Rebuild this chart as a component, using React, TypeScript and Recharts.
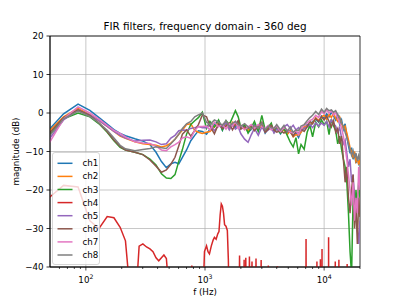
import { LineChart, Line, XAxis, YAxis, CartesianGrid, ReferenceArea } from 'recharts';

// frequency bins (Hz) shared by ch1-3, ch5-8
const freqs = [
  43, 65, 86, 108, 129, 151, 172, 194, 215, 258, 301, 345, 388, 431, 474, 517, 560, 603, 646, 700, 760, 820, 880, 950,
  1030, 1100, 1200, 1300, 1400, 1500, 1600, 1700, 1800, 1900, 2000, 2150, 2300, 2450, 2600, 2800, 3000, 3200, 3400,
  3600, 3800, 4000, 4300, 4600, 4900, 5200, 5500, 5800, 6100, 6400, 6800, 7200, 7600, 8000, 8500, 9000, 9500, 10000,
  10500, 11000, 11500, 12000, 12500, 13000, 13500, 14000, 14500, 15000, 15500, 16000, 16500, 17000, 17500, 18000,
  18500, 19000, 19500, 20000,
];

const ch1 = [
  -6.3, -0.2, 2.3, 0.7, -1.2, -2.9, -4.3, -5.3, -5.9, -6.7, -7.3, -8.2, -10.2, -12.6, -14.2, -13.2, -12.8, -13.2, -11.5, -9.6, -7.2, -5.8, -4.6, -4.8,
  -5.5, -4.2, -3.0, -2.0, -4.5, -2.5, -3.5, -2.8, -3.8, -2.2,
  -4.0, -3.2, -5.0, -4.2, -3.0, -4.6, -2.8, -5.2, -4.0, -3.2,
  -4.8, -3.6, -5.4, -4.2, -5.0, -4.4, -6.0, -5.2, -6.4, -4.8,
  -4.0, -3.0, -3.8, -2.2, -1.6, -2.4, -0.8, -1.4, -0.2, -1.0,
  0.2, -0.8, -1.8, -0.6, -3.0, -1.8, -4.2, -2.8, -6.0, -8.5,
  -10.5, -9.0, -12.0, -10.8, -13.0, -11.5, -13.2, -12.5,
];

const ch2 = [
  -6.5, -1.0, 1.2, -0.4, -2.0, -3.5, -4.8, -6.0, -6.6, -7.5, -8.0, -8.2, -8.4, -8.8, -8.5, -7.8, -6.8, -5.5, -4.5, -3.0, -2.8, -4.5, -5.0, -5.3,
  -5.0, -4.8, -3.6, -2.6, -3.8, -3.0, -4.2, -2.4, -3.2, -2.8,
  -3.6, -4.0, -4.6, -3.4, -3.6, -4.2, -3.2, -4.8, -3.8, -3.4,
  -4.6, -4.0, -5.0, -4.4, -5.6, -4.6, -6.2, -5.6, -5.8, -5.0,
  -3.6, -3.4, -3.0, -2.6, -1.2, -2.0, -1.0, -0.6, -1.6, -0.4,
  -1.2, 0.0, -1.4, -2.2, -1.0, -2.6, -4.0, -3.4, -5.2, -7.0,
  -9.0, -10.2, -11.4, -10.0, -12.6, -11.8, -13.4, -12.0,
];

const ch3 = [
  -7.8, -1.5, 0.0, -1.0, -2.8, -5.0, -7.2, -8.9, -9.6, -10.2, -10.8, -12.0, -13.5, -15.8, -16.9, -17.0, -16.0, -12.5, -9.5, -5.5, -3.0, -2.0, -1.2, 0.2,
  -4.0, -2.2, -3.6, -1.8, -4.4, -2.0, -3.0, -1.2, 0.6, -1.0,
  -3.8, -3.0, -5.2, -3.8, -2.2, -4.8, -0.6, -4.4, -3.6, -2.6,
  -5.0, -4.0, -5.2, -4.0, -5.8, -7.6, -8.8, -6.4, -10.6, -8.2,
  -9.4, -5.0, -3.2, -6.2, -2.4, -3.6, -1.8, -3.0, -2.2, -5.6,
  -1.6, -3.4, -4.6, -8.0, -6.0, -9.4, -12.0, -14.0, -18.0, -26.0,
  -36.0, -42.0, -22.0, -28.0, -20.0, -24.0, -18.0, -22.0,
];

const ch5 = [
  -9.2, -1.8, 0.8, -0.5, -2.0, -3.5, -4.8, -5.8, -6.5, -7.3, -7.1, -7.0, -7.5, -8.2, -8.0, -6.5, -5.8, -4.6, -4.4, -4.5, -4.0, -3.8, -3.5, -3.8,
  -3.8, -3.0, -4.6, -3.2, -3.6, -2.6, -4.4, -3.0, -4.2, -3.6,
  -5.4, -6.8, -7.6, -5.6, -4.0, -5.8, -3.6, -5.0, -4.4, -3.8,
  -5.2, -4.2, -4.8, -3.6, -3.0, -4.0, -3.2, -4.4, -3.8, -4.6,
  -4.0, -3.6, -3.0, -3.8, -2.6, -3.4, -2.6, -3.2, -2.2, -3.6,
  -1.8, -2.8, -3.4, -5.0, -3.8, -6.4, -8.0, -7.0, -10.4, -14.0,
  -12.0, -18.0, -16.0, -22.0, -26.0, -30.0, -34.0, -28.0,
];

const ch6 = [
  -7.2, -1.2, 0.8, -0.6, -2.6, -4.8, -7.0, -8.7, -9.6, -10.2, -10.8, -12.2, -13.8, -15.4, -14.8, -13.3, -11.5, -8.5, -5.5, -4.4, -6.0, -4.5, -3.0, -0.5,
  -1.0, -3.4, -5.4, -2.8, -4.0, -3.4, -2.6, -4.4, -3.0, -2.0,
  -4.2, -3.6, -4.0, -3.2, -4.6, -3.4, -2.4, -5.0, -4.2, -3.2,
  -4.4, -5.0, -4.6, -5.2, -4.6, -5.0, -6.0, -4.8, -5.4, -4.2,
  -4.8, -3.6, -2.2, -2.8, -1.4, -2.2, -1.0, -1.8, -0.8, -2.2,
  -3.6, -2.0, -5.0, -4.0, -8.0, -6.0, -12.0, -18.0, -14.0, -22.0,
  -26.0, -20.0, -16.0, -30.0, -24.0, -34.0, -22.0, -27.0,
];

const ch7 = [
  -10.9, -1.5, 1.6, 0.0, -1.6, -3.2, -4.5, -5.3, -6.2, -7.5, -7.8, -7.9, -8.6, -9.6, -9.8, -8.8, -8.2, -7.6, -6.5, -6.2, -6.6, -4.5, -3.5, -3.5,
  -3.4, -4.4, -2.4, -3.6, -3.0, -4.2, -2.8, -3.4, -2.2, -4.0,
  -3.2, -4.4, -3.6, -3.0, -4.0, -3.0, -3.6, -4.0, -3.2, -4.4,
  -3.8, -3.4, -4.8, -3.8, -4.4, -5.0, -5.2, -4.6, -5.6, -4.0,
  -3.2, -2.6, -2.0, -1.6, -0.6, -1.2, 0.4, -0.2, 0.8, 0.0,
  0.6, -0.6, 0.2, -1.4, -2.6, -3.8, -6.0, -9.0, -12.0, -16.0,
  -20.0, -24.0, -18.0, -28.0, -22.0, -26.0, -14.0, -20.0,
];

const ch8 = [
  -8.3, -1.5, 0.5, -0.9, -2.6, -4.5, -6.5, -8.4, -9.3, -9.8, -9.5, -9.2, -8.8, -9.0, -9.2, -8.0, -6.8, -5.5, -4.0, -2.8, -2.2, -1.0, -0.5, 0.0,
  -2.4, -3.0, -1.8, -2.4, -3.2, -2.0, -3.6, -2.6, -2.2, -3.0,
  -3.4, -2.8, -3.6, -4.2, -3.2, -4.0, -2.6, -4.4, -3.4, -3.8,
  -4.0, -3.0, -4.4, -3.2, -4.8, -3.6, -5.0, -4.4, -4.6, -3.4,
  -3.0, -2.0, -1.2, -0.6, 0.4, -0.4, 1.0, 0.2, 1.2, 0.6,
  0.8, 0.2, 0.6, -0.4, -1.2, -2.6, -3.4, -5.0, -6.4, -8.0,
  -9.6, -11.0, -9.8, -11.6, -10.4, -12.4, -11.0, -12.2,
];

// ch4 is mostly below the -40 dB floor, so it has its own bins
const ch4Freqs = [
  43, 65, 86, 108, 129, 151, 172, 194, 215, 237, 258,
  280, 301, 323, 345, 366, 388, 409, 431, 452, 474, 495, 517, 560,
  646, 753, 775, 797, 904, 969,
  990, 1030, 1060, 1090, 1130, 1170, 1200, 1240, 1280, 1310, 1340, 1370, 1400, 1430, 1460, 1500, 1540, 1570, 1600, 1700,
  1930, 1950, 1970, 2110, 2130, 2150, 2180, 2200, 2220, 2340, 2360, 2380, 2460, 2480, 2500,
  2660, 2680, 2700, 2940, 2960, 2980, 3380, 3400, 3420, 4030, 4050, 4070,
  7030, 7050, 7070, 8680, 8700, 8720, 9280, 9300, 9320, 9580, 9600, 9620,
  10880, 10900, 10920, 12380, 12400, 12420, 13280, 13300, 13320, 15580, 15600, 15620, 20000,
];
const ch4 = [
  -23.5, -18.8, -19.2, -28.0, -30.0, -26.9, -27.2, -29.7, -33.2, -48, -52,
  -34.6, -34.0, -34.8, -35.3, -36.0, -37.6, -38.4, -37.6, -36.9, -37.8, -45, -55, -60,
  -58, -46, -39.6, -46, -58, -45,
  -36.0, -34.5, -36.0, -36.6, -34.5, -33.0, -32.3, -32.8, -31.4, -30.8, -26.5, -23.6, -24.2, -26.0, -29.0, -29.4, -30.5, -38.0, -52, -60,
  -55, -37.0, -55, -55, -38.1, -55, -55, -37.6, -55, -55, -37.3, -55, -55, -38.6, -55,
  -55, -37.8, -55, -55, -38.2, -55, -55, -39.6, -55, -55, -39.8, -55,
  -55, -32.7, -55, -55, -38.6, -55, -55, -38.0, -55, -55, -35.3, -55,
  -55, -32.3, -55, -55, -38.6, -55, -55, -38.1, -55, -55, -39.2, -55, -60,
];

const names = ['ch1', 'ch2', 'ch3', 'ch4', 'ch5', 'ch6', 'ch7', 'ch8'];
const colors = ['#1f77b4', '#ff7f0e', '#2ca02c', '#d62728', '#9467bd', '#8c564b', '#e377c2', '#7f7f7f'];

const majorTicks = [100, 1000, 10000];
const xTicks = [
  60, 70, 80, 90, 100, 200, 300, 400, 500, 600, 700, 800, 900, 1000,
  2000, 3000, 4000, 5000, 6000, 7000, 8000, 9000, 10000, 20000,
];
const yTicks = [-40, -30, -20, -10, 0, 10, 20];

const series = { ch1, ch2, ch3, ch5, ch6, ch7, ch8 };
const data = freqs.map((f, i) => {
  const row: Record<string, number> = { f };
  Object.entries(series).forEach(([k, arr]) => { row[k] = arr[i]; });
  return row;
});
const ch4Data = ch4Freqs.map((f, i) => ({ f, ch4: ch4[i] }));

const FONT = 'DejaVu Sans';
const LW = 1.5;

function FreqTick(props: any) {
  const { x, y, payload } = props;
  const v = payload.value;
  const major = majorTicks.includes(v);
  return (
    <g>
      <line x1={x} x2={x} y1={y} y2={y + (major ? 3.5 : 2)} stroke="#000" strokeWidth={0.7} />
      {major && (
        <text x={x} y={y + 16} textAnchor="middle" fontSize={8.7} fontFamily={FONT} fill="#000">
          10<tspan dy={-3.8} fontSize={6.2}>{Math.round(Math.log10(v))}</tspan>
        </text>
      )}
    </g>
  );
}

const fmtY = (v: number) => (v < 0 ? '\u2212' + Math.abs(v) : String(v));

export default function App() {
  return (
    <div style={{ position: 'absolute', left: 0, top: 0, width: 400, height: 300, background: '#fff' }}>
      <LineChart width={400} height={300} data={data} margin={{ top: 36, right: 40, bottom: 0, left: 0 }}>
        <CartesianGrid stroke="#b0b0b0" strokeWidth={0.7} verticalValues={majorTicks} horizontalValues={yTicks} />
        <XAxis
          dataKey="f"
          type="number"
          scale="log"
          domain={[50, 20000]}
          allowDataOverflow
          ticks={xTicks}
          interval={0}
          tick={<FreqTick />}
          tickLine={false}
          tickSize={0}
          tickMargin={0}
          axisLine={{ stroke: '#000', strokeWidth: 0.8 }}
          height={33}
          label={{
            content: (p: any) => (
              <text x={p.viewBox.x + p.viewBox.width / 2} y={p.viewBox.y + 27.5} textAnchor="middle" fontSize={8.7} fontFamily={FONT} fill="#000">
                f (Hz)
              </text>
            ),
          }}
        />
        <YAxis
          type="number"
          domain={[-40, 20]}
          allowDataOverflow
          ticks={yTicks}
          interval={0}
          width={50}
          tickSize={3.5}
          tickMargin={3}
          tickLine={{ stroke: '#000', strokeWidth: 0.8 }}
          axisLine={{ stroke: '#000', strokeWidth: 0.8 }}
          tick={{ fill: '#000', fontSize: 8.7, fontFamily: FONT }}
          tickFormatter={fmtY}
          label={{
            content: (p: any) => {
              const cx = 16;
              const cy = p.viewBox.y + p.viewBox.height / 2;
              return (
                <text x={cx} y={cy} transform={`rotate(-90, ${cx}, ${cy})`} textAnchor="middle" dominantBaseline="central" fontSize={8.7} fontFamily={FONT} fill="#000">
                  magnitude (dB)
                </text>
              );
            },
          }}
        />
        {names.map((n, i) =>
          n === 'ch4' ? (
            <Line key={n} data={ch4Data} dataKey="ch4" stroke={colors[i]} strokeWidth={LW} dot={false} isAnimationActive={false} />
          ) : (
            <Line key={n} dataKey={n} stroke={colors[i]} strokeWidth={LW} dot={false} isAnimationActive={false} />
          )
        )}
        <ReferenceArea x1={50} x2={20000} y1={-40} y2={20} fill="none" stroke="#000" strokeWidth={0.8} fillOpacity={0} />
      </LineChart>
      <svg width={400} height={300} style={{ position: 'absolute', left: 0, top: 0, pointerEvents: 'none' }}>
        <text x={205} y={29.7} textAnchor="middle" fontSize={10.4} fontFamily={FONT} fill="#000">
          FIR filters, frequency domain - 360 deg
        </text>
        <rect x={52.5} y={152.5} width={47} height={112} rx={2.5} fill="#fff" fillOpacity={0.8} stroke="#ccc" strokeWidth={0.8} />
        {names.map((n, i) => (
          <g key={n}>
            <line x1={57.5} x2={72.5} y1={163.3 + i * 13.1} y2={163.3 + i * 13.1} stroke={colors[i]} strokeWidth={LW} />
            <text x={82.5} y={163.3 + i * 13.1} dominantBaseline="central" fontSize={8.7} fontFamily={FONT} fill="#000">
              {n}
            </text>
          </g>
        ))}
      </svg>
    </div>
  );
}
